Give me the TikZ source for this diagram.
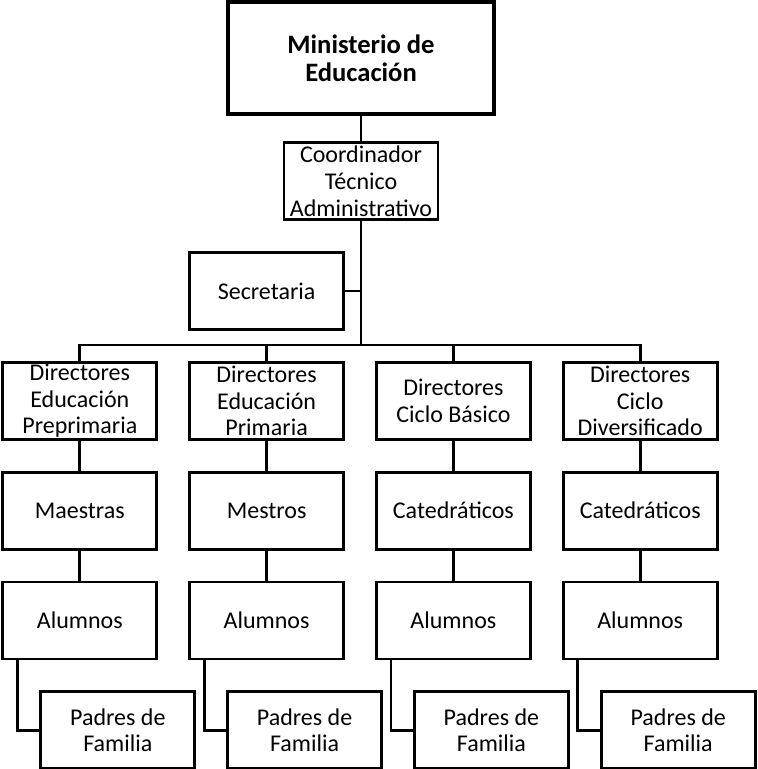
\documentclass[tikz,border=0pt]{standalone}
\usepackage{fontspec}
\setmainfont{Carlito}
\usetikzlibrary{positioning}

\tikzset{
  unit/.style={draw, line width=1.4pt, minimum width=77pt, minimum height=38.5pt,
    inner sep=0pt, align=center, font=\fontsize{12}{13.3}\selectfont},
  ministry/.style={unit, line width=2.4pt, minimum width=133pt, minimum height=56pt,
    font=\fontsize{13.3}{14}\selectfont\bfseries},
  link/.style={line width=1.4pt}
}

\begin{document}
\begin{tikzpicture}[node distance=15pt]
\useasboundingbox (0,0) rectangle (378.5pt,-384.5pt);

% head of the chart
\node[ministry] (ministerio) at (180.5pt,-29pt) {Ministerio de\\Educación};
\node[unit]     (coordinador) [below=12.5pt of ministerio] {Coordinador\\Técnico\\Administrativo};
\node[unit]     (secretaria)  [below left=15pt and 8pt of coordinador.south] {Secretaria};

% directors
\node[unit] (dirprimaria)  [below=of secretaria]   {Directores\\Educación\\Primaria};
\node[unit] (dirpreprim)   [left=of dirprimaria]   {Directores\\Educación\\Preprimaria};
\node[unit] (dirbasico)    [right=of dirprimaria]  {Directores\\Ciclo Básico};
\node[unit] (dirdiversif)  [right=of dirbasico]    {Directores\\Ciclo\\Diversificado};

% teachers
\node[unit] (maestras)     [below=of dirpreprim]   {Maestras};
\node[unit] (mestros)      [below=of dirprimaria]  {Mestros};
\node[unit] (catbasico)    [below=of dirbasico]    {Catedráticos};
\node[unit] (catdiversif)  [below=of dirdiversif]  {Catedráticos};

% students
\node[unit] (alumpreprim)  [below=of maestras]     {Alumnos};
\node[unit] (alumprimaria) [below=of mestros]      {Alumnos};
\node[unit] (alumbasico)   [below=of catbasico]    {Alumnos};
\node[unit] (alumdiversif) [below=of catdiversif]  {Alumnos};

% parents
\node[unit] (padpreprim)   [below right=15pt and 19pt of alumpreprim.south west]  {Padres de\\Familia};
\node[unit] (padprimaria)  [below right=15pt and 19pt of alumprimaria.south west] {Padres de\\Familia};
\node[unit] (padbasico)    [below right=15pt and 19pt of alumbasico.south west]   {Padres de\\Familia};
\node[unit] (paddiversif)  [below right=15pt and 19pt of alumdiversif.south west] {Padres de\\Familia};

% connectors
\coordinate[above=8pt of dirpreprim.north] (bus);
\draw[link] (ministerio.south) -- (coordinador.north);
\draw[link] (coordinador.south) -- (coordinador.south |- bus);
\draw[link] (secretaria.east) -- (secretaria.east -| coordinador.south);
\draw[link] (dirpreprim.north) -- (bus) -| (dirdiversif.north);
\draw[link] (dirprimaria.north) -- (dirprimaria.north |- bus);
\draw[link] (dirbasico.north) -- (dirbasico.north |- bus);

\foreach \dir/\doc/\alum/\pad in {dirpreprim/maestras/alumpreprim/padpreprim,
    dirprimaria/mestros/alumprimaria/padprimaria,
    dirbasico/catbasico/alumbasico/padbasico,
    dirdiversif/catdiversif/alumdiversif/paddiversif} {
  \draw[link] (\dir.south) -- (\doc.north);
  \draw[link] (\doc.south) -- (\alum.north);
  \draw[link] ([xshift=8pt]\alum.south west) |- (\pad.west);
}
\end{tikzpicture}
\end{document}
